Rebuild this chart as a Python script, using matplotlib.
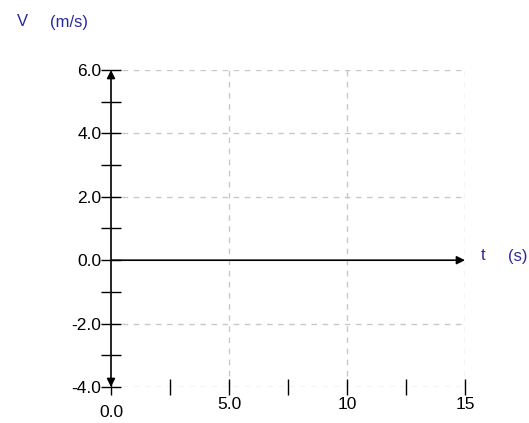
import matplotlib
matplotlib.use('Agg')
import matplotlib.pyplot as plt
import numpy as np

# axis ranges and ticks
t_min, t_max = 0.0, 15.0
v_min, v_max = -4.0, 6.0
t_major = [0.0, 5.0, 10.0, 15.0]
t_labels = ['0.0', '5.0', '10', '15']
t_minor = [2.5, 7.5, 12.5]
v_major = [-4.0, -2.0, 0.0, 2.0, 4.0, 6.0]
v_labels = ['-4.0', '-2.0', '0.0', '2.0', '4.0', '6.0']
v_minor = [-3.0, -1.0, 1.0, 3.0, 5.0]

plt.rcParams['font.family'] = ['Liberation Sans', 'DejaVu Sans']
fig = plt.figure(figsize=(5.29, 4.23), dpi=100)
W, H = 529.0, 423.0
ax = fig.add_axes([111 / W, 36 / H, (465 - 111) / W, (387 - 70) / H])
ax.set_xlim(t_min, t_max)
ax.set_ylim(v_min, v_max)
for s in ax.spines.values():
    s.set_visible(False)

grid_kw = dict(color='#c8c8c8', linestyle=(0, (4, 4)), linewidth=1, zorder=1)
for t in t_major[1:]:
    ax.plot([t, t], [v_min, v_max], **grid_kw)
for v in v_major:
    if v != 0:
        ax.plot([t_min, t_max], [v, v], **grid_kw)

ax.set_xticks(t_major)
ax.set_xticklabels(t_labels)
ax.set_xticks(t_minor, minor=True)
ax.set_yticks(v_major)
ax.set_yticklabels(v_labels)
ax.set_yticks(v_minor, minor=True)
ax.tick_params(axis='y', which='both', direction='inout', length=14, width=1,
               color='black', labelsize=12.5, pad=0)
ax.tick_params(axis='x', which='both', direction='inout', length=12, width=1,
               color='black', labelsize=12.5, pad=1)
# the 0.0 label on the time axis sits lower than the others
ax.xaxis.get_major_ticks()[0].set_pad(7)

# y axis with arrows both ends, x axis with arrow at right
ax.annotate('', xy=(0, v_max), xytext=(0, v_min),
            arrowprops=dict(arrowstyle='<|-|>', color='black', lw=1.2,
                            mutation_scale=12, shrinkA=0, shrinkB=0),
            annotation_clip=False, zorder=3)
ax.annotate('', xy=(t_max, 0), xytext=(0, 0),
            arrowprops=dict(arrowstyle='-|>', color='black', lw=1.2,
                            mutation_scale=12, shrinkA=0, shrinkB=0),
            annotation_clip=False, zorder=3)

blue = '#2a2aa0'
fig.text(17 / W, 1 - 22 / H, 'V', color=blue, fontsize=12, va='center')
fig.text(50 / W, 1 - 22 / H, '(m/s)', color=blue, fontsize=12, va='center')
fig.text(481 / W, 1 - 256 / H, 't', color=blue, fontsize=12, va='center')
fig.text(508 / W, 1 - 256 / H, '(s)', color=blue, fontsize=12, va='center')

fig.savefig('out.png', dpi=100)
